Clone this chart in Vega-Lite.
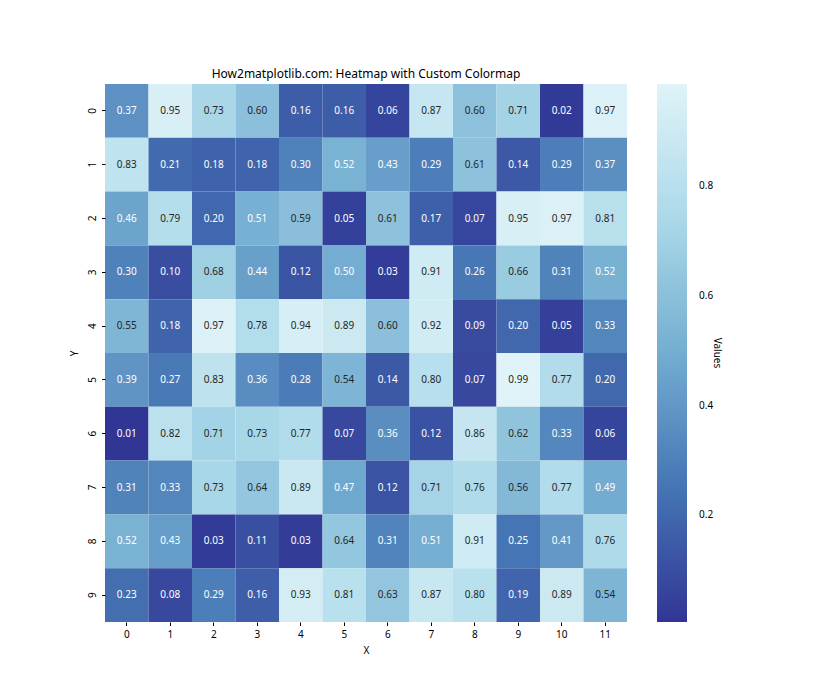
{
  "$schema": "https://vega.github.io/schema/vega-lite/v6.json",
  "width": 522,
  "height": 538,
  "autosize": {"type": "none"},
  "padding": {"left": 105, "top": 84, "right": 213, "bottom": 78},
  "background": "white",
  "config": {
    "font": "Noto Sans",
    "view": {"stroke": null},
    "axis": {"labelFont": "Noto Sans", "titleFont": "Noto Sans", "labelFontSize": 10, "titleFontSize": 10, "labelColor": "#000", "titleColor": "#000", "titleFontWeight": "normal", "tickColor": "#000", "domain": false, "grid": false, "tickSize": 3.5}
  },
  "title": {"text": "How2matplotlib.com: Heatmap with Custom Colormap", "fontSize": 12, "fontWeight": "normal", "font": "Noto Sans", "color": "#000", "offset": 3},
  "data": {"values": [
    {"x":0,"y":0,"v":0.3745},{"x":1,"y":0,"v":0.9507},{"x":2,"y":0,"v":0.7320},{"x":3,"y":0,"v":0.5987},{"x":4,"y":0,"v":0.1560},{"x":5,"y":0,"v":0.1560},{"x":6,"y":0,"v":0.0581},{"x":7,"y":0,"v":0.8662},{"x":8,"y":0,"v":0.6011},{"x":9,"y":0,"v":0.7081},{"x":10,"y":0,"v":0.0206},{"x":11,"y":0,"v":0.9699},
    {"x":0,"y":1,"v":0.8324},{"x":1,"y":1,"v":0.2123},{"x":2,"y":1,"v":0.1818},{"x":3,"y":1,"v":0.1834},{"x":4,"y":1,"v":0.3042},{"x":5,"y":1,"v":0.5248},{"x":6,"y":1,"v":0.4319},{"x":7,"y":1,"v":0.2912},{"x":8,"y":1,"v":0.6119},{"x":9,"y":1,"v":0.1395},{"x":10,"y":1,"v":0.2921},{"x":11,"y":1,"v":0.3664},
    {"x":0,"y":2,"v":0.4561},{"x":1,"y":2,"v":0.7852},{"x":2,"y":2,"v":0.1997},{"x":3,"y":2,"v":0.5142},{"x":4,"y":2,"v":0.5924},{"x":5,"y":2,"v":0.0465},{"x":6,"y":2,"v":0.6075},{"x":7,"y":2,"v":0.1705},{"x":8,"y":2,"v":0.0651},{"x":9,"y":2,"v":0.9489},{"x":10,"y":2,"v":0.9656},{"x":11,"y":2,"v":0.8084},
    {"x":0,"y":3,"v":0.3046},{"x":1,"y":3,"v":0.0977},{"x":2,"y":3,"v":0.6842},{"x":3,"y":3,"v":0.4402},{"x":4,"y":3,"v":0.1220},{"x":5,"y":3,"v":0.4952},{"x":6,"y":3,"v":0.0344},{"x":7,"y":3,"v":0.9093},{"x":8,"y":3,"v":0.2588},{"x":9,"y":3,"v":0.6625},{"x":10,"y":3,"v":0.3117},{"x":11,"y":3,"v":0.5201},
    {"x":0,"y":4,"v":0.5467},{"x":1,"y":4,"v":0.1849},{"x":2,"y":4,"v":0.9696},{"x":3,"y":4,"v":0.7751},{"x":4,"y":4,"v":0.9395},{"x":5,"y":4,"v":0.8948},{"x":6,"y":4,"v":0.5979},{"x":7,"y":4,"v":0.9219},{"x":8,"y":4,"v":0.0885},{"x":9,"y":4,"v":0.1960},{"x":10,"y":4,"v":0.0452},{"x":11,"y":4,"v":0.3253},
    {"x":0,"y":5,"v":0.3887},{"x":1,"y":5,"v":0.2713},{"x":2,"y":5,"v":0.8287},{"x":3,"y":5,"v":0.3568},{"x":4,"y":5,"v":0.2809},{"x":5,"y":5,"v":0.5427},{"x":6,"y":5,"v":0.1409},{"x":7,"y":5,"v":0.8022},{"x":8,"y":5,"v":0.0746},{"x":9,"y":5,"v":0.9869},{"x":10,"y":5,"v":0.7722},{"x":11,"y":5,"v":0.1987},
    {"x":0,"y":6,"v":0.0055},{"x":1,"y":6,"v":0.8155},{"x":2,"y":6,"v":0.7069},{"x":3,"y":6,"v":0.7290},{"x":4,"y":6,"v":0.7713},{"x":5,"y":6,"v":0.0740},{"x":6,"y":6,"v":0.3585},{"x":7,"y":6,"v":0.1159},{"x":8,"y":6,"v":0.8631},{"x":9,"y":6,"v":0.6233},{"x":10,"y":6,"v":0.3309},{"x":11,"y":6,"v":0.0636},
    {"x":0,"y":7,"v":0.3110},{"x":1,"y":7,"v":0.3252},{"x":2,"y":7,"v":0.7296},{"x":3,"y":7,"v":0.6376},{"x":4,"y":7,"v":0.8872},{"x":5,"y":7,"v":0.4722},{"x":6,"y":7,"v":0.1196},{"x":7,"y":7,"v":0.7132},{"x":8,"y":7,"v":0.7608},{"x":9,"y":7,"v":0.5613},{"x":10,"y":7,"v":0.7710},{"x":11,"y":7,"v":0.4938},
    {"x":0,"y":8,"v":0.5227},{"x":1,"y":8,"v":0.4275},{"x":2,"y":8,"v":0.0254},{"x":3,"y":8,"v":0.1079},{"x":4,"y":8,"v":0.0314},{"x":5,"y":8,"v":0.6364},{"x":6,"y":8,"v":0.3144},{"x":7,"y":8,"v":0.5086},{"x":8,"y":8,"v":0.9076},{"x":9,"y":8,"v":0.2493},{"x":10,"y":8,"v":0.4104},{"x":11,"y":8,"v":0.7556},
    {"x":0,"y":9,"v":0.2288},{"x":1,"y":9,"v":0.0770},{"x":2,"y":9,"v":0.2898},{"x":3,"y":9,"v":0.1612},{"x":4,"y":9,"v":0.9297},{"x":5,"y":9,"v":0.8081},{"x":6,"y":9,"v":0.6334},{"x":7,"y":9,"v":0.8715},{"x":8,"y":9,"v":0.8037},{"x":9,"y":9,"v":0.1866},{"x":10,"y":9,"v":0.8926},{"x":11,"y":9,"v":0.5393}
  ]},
  "encoding": {
    "x": {"field": "x", "type": "ordinal", "title": "X", "scale": {"paddingInner": 0, "paddingOuter": 0}, "axis": {"labelAngle": 0, "labelPadding": 4, "titlePadding": 6}},
    "y": {"field": "y", "type": "ordinal", "title": "Y", "scale": {"paddingInner": 0, "paddingOuter": 0}, "axis": {"labelAngle": 270, "labelAlign": "center", "labelBaseline": "bottom", "labelPadding": 4, "titlePadding": 8}}
  },
  "layer": [
    {
      "mark": {"type": "rect", "strokeWidth": 0},
      "encoding": {
        "color": {
          "field": "v", "type": "quantitative", "title": "Values",
          "scale": {"domain": [0.0055, 0.9869], "range": ["#313695", "#4575b4", "#74add1", "#abd9e9", "#e0f3f8"], "interpolate": "rgb"},
          "legend": {
            "orient": "none", "legendX": 552, "legendY": 0, "direction": "vertical",
            "gradientLength": 538, "gradientThickness": 30, "gradientStrokeWidth": 0,
            "values": [0.2, 0.4, 0.6, 0.8], "format": ".1f",
            "labelFont": "Noto Sans", "labelFontSize": 10, "labelColor": "#000", "labelOffset": 12,
            "titleFont": "Noto Sans", "titleFontSize": 10, "titleFontWeight": "normal", "titleColor": "#000",
            "titleOrient": "right", "titleAngle": 270, "titleAnchor": "middle", "titleAlign": "center", "titleBaseline": "top", "titlePadding": 9
          }
        }
      }
    },
    {
      "mark": {"type": "text", "fontSize": 10, "font": "Noto Sans"},
      "encoding": {
        "text": {"field": "v", "type": "quantitative", "format": ".2f"},
        "color": {"condition": {"test": "datum.v > 0.53", "value": "#262626"}, "value": "#ffffff"}
      }
    }
  ]
}
